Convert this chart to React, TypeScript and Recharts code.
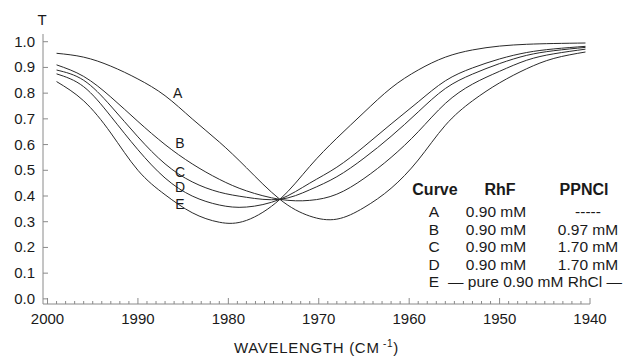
import { LineChart, Line, XAxis, YAxis, ReferenceDot } from "recharts"

// wavenumber (cm-1) sample points
const WAVENUMBER = [1999, 1996, 1993, 1990, 1987, 1984, 1981, 1978, 1974.3, 1971, 1968, 1965, 1962, 1959, 1956, 1953, 1950, 1947, 1944, 1940.5]

const CURVE_A = [0.955, 0.94, 0.905, 0.855, 0.79, 0.70, 0.61, 0.51, 0.387, 0.322, 0.31, 0.355, 0.43, 0.54, 0.675, 0.77, 0.84, 0.895, 0.935, 0.96]
const CURVE_B = [0.91, 0.865, 0.785, 0.69, 0.60, 0.525, 0.465, 0.42, 0.387, 0.383, 0.407, 0.468, 0.55, 0.65, 0.76, 0.835, 0.885, 0.928, 0.953, 0.971]
const CURVE_C = [0.89, 0.85, 0.75, 0.63, 0.525, 0.455, 0.415, 0.395, 0.387, 0.424, 0.475, 0.547, 0.632, 0.727, 0.818, 0.874, 0.915, 0.947, 0.965, 0.978]
const CURVE_D = [0.875, 0.825, 0.71, 0.58, 0.47, 0.40, 0.365, 0.357, 0.387, 0.45, 0.512, 0.592, 0.68, 0.766, 0.848, 0.898, 0.933, 0.958, 0.972, 0.982]
const CURVE_E = [0.845, 0.77, 0.645, 0.50, 0.405, 0.335, 0.298, 0.305, 0.387, 0.515, 0.625, 0.725, 0.82, 0.89, 0.94, 0.968, 0.983, 0.99, 0.993, 0.995]

const CURVES = ["A", "B", "C", "D", "E"]

// where the letters sit beside the curves (wavenumber, T)
const LABEL_W = [1985.6, 1985.35, 1985.35, 1985.35, 1985.35]
const LABEL_T = [0.80, 0.605, 0.494, 0.434, 0.37]

const Y_TICKS = [0, 0.1, 0.2, 0.3, 0.4, 0.5, 0.6, 0.7, 0.8, 0.9, 1.0]
const X_MAJOR = [2000, 1990, 1980, 1970, 1960, 1950, 1940]
const X_TICKS = Array.from({ length: 61 }, (_, i) => 1940 + i)

const LEGEND_RHF = ["0.90 mM", "0.90 mM", "0.90 mM", "0.90 mM"]
const LEGEND_PPNCL = ["-----", "0.97 mM", "1.70 mM", "1.70 mM"]
const LEGEND_E = "— pure 0.90 mM RhCl —"

const data = WAVENUMBER.map((w, i) => ({
  w,
  A: CURVE_A[i],
  B: CURVE_B[i],
  C: CURVE_C[i],
  D: CURVE_D[i],
  E: CURVE_E[i],
}))

const FONT = '"Liberation Sans", Arial, sans-serif'
const INK = "#1a1a1a"
const AXIS = "#8a8a8a"

function XTick(props: any) {
  const { x, y, payload } = props
  const major = X_MAJOR.includes(payload.value)
  return (
    <g>
      <line x1={x} x2={x} y1={y} y2={y - (major ? 6 : 3)} stroke={AXIS} strokeWidth={1} />
      {major && (
        <text x={x} y={y + 20} textAnchor="middle" fontSize={15} fontFamily={FONT} fill={INK}>
          {payload.value}
        </text>
      )}
    </g>
  )
}

function YTick(props: any) {
  const { x, y, payload } = props
  return (
    <g>
      <line x1={x + 8} x2={x + 13} y1={y} y2={y} stroke={AXIS} strokeWidth={1} />
      <text x={x} y={y + 5} textAnchor="end" fontSize={15} fontFamily={FONT} fill={INK}>
        {payload.value.toFixed(1)}
      </text>
    </g>
  )
}

const cell = (left: number, width: number): React.CSSProperties => ({
  position: "absolute",
  left,
  width,
  textAlign: "center",
})

export default function App() {
  return (
    <div style={{ position: "absolute", left: 0, top: 0, width: 633, height: 358, background: "#fff", fontFamily: FONT, color: INK }}>
      <LineChart width={633} height={358} data={data} margin={{ top: 34, right: 43, left: 0, bottom: 0 }}>
        <XAxis
          dataKey="w"
          type="number"
          domain={[1940, 2000.5]}
          reversed
          ticks={X_TICKS}
          interval={0}
          tickSize={0}
          tickMargin={0}
          tickLine={false}
          axisLine={{ stroke: AXIS }}
          tick={<XTick />}
          height={54}
          label={{
            content: ({ viewBox }: any) => (
              <text x={viewBox.x + viewBox.width / 2} y={viewBox.y + 49} textAnchor="middle" fontSize={15} fontFamily={FONT} fill={INK} letterSpacing={0.7}>
                WAVELENGTH (CM
                <tspan dy={-6} fontSize={10}> -1</tspan>
                <tspan dy={6}>)</tspan>
              </text>
            ),
          }}
        />
        <YAxis
          type="number"
          domain={[-0.02, 1.03]}
          ticks={Y_TICKS}
          interval={0}
          width={43}
          tickSize={0}
          tickMargin={8}
          tickLine={false}
          axisLine={{ stroke: AXIS }}
          tick={<YTick />}
          label={{
            content: ({ viewBox }: any) => (
              <text x={viewBox.x + viewBox.width - 1} y={viewBox.y - 9} textAnchor="middle" fontSize={15} fontFamily={FONT} fill={INK}>
                T
              </text>
            ),
          }}
        />
        {CURVES.map((k) => (
          <Line
            key={k}
            type="natural"
            dataKey={k}
            stroke="#2a2a2a"
            strokeWidth={1}
            dot={false}
            activeDot={false}
            isAnimationActive={false}
          />
        ))}
        {CURVES.map((k, i) => (
          <ReferenceDot
            key={`lbl-${k}`}
            x={LABEL_W[i]}
            y={LABEL_T[i]}
            r={0}
            fill="none"
            stroke="none"
            label={{ value: k, position: "center", fontSize: 14, fontFamily: FONT, fill: INK }}
          />
        ))}
      </LineChart>

      {/* legend table */}
      <div style={{ position: "absolute", left: 0, top: 180, width: 633, height: 20, lineHeight: "20px", fontSize: 16, fontWeight: "bold" }}>
        <span style={cell(410, 50)}>Curve</span>
        <span style={cell(466, 68)}>RhF</span>
        <span style={cell(546, 76)}>PPNCl</span>
      </div>
      {CURVES.map((k, i) => (
        <div key={`row-${k}`} style={{ position: "absolute", left: 0, top: 203 + i * 17.5, width: 633, height: 17.5, lineHeight: "17.5px", fontSize: 15.5 }}>
          <span style={cell(412, 44)}>{k}</span>
          {i < 4 ? (
            <>
              <span style={cell(462, 68)}>{LEGEND_RHF[i]}</span>
              <span style={cell(550, 76)}>{LEGEND_PPNCL[i]}</span>
            </>
          ) : (
            <span style={{ position: "absolute", left: 448, whiteSpace: "nowrap" }}>{LEGEND_E}</span>
          )}
        </div>
      ))}
    </div>
  )
}
